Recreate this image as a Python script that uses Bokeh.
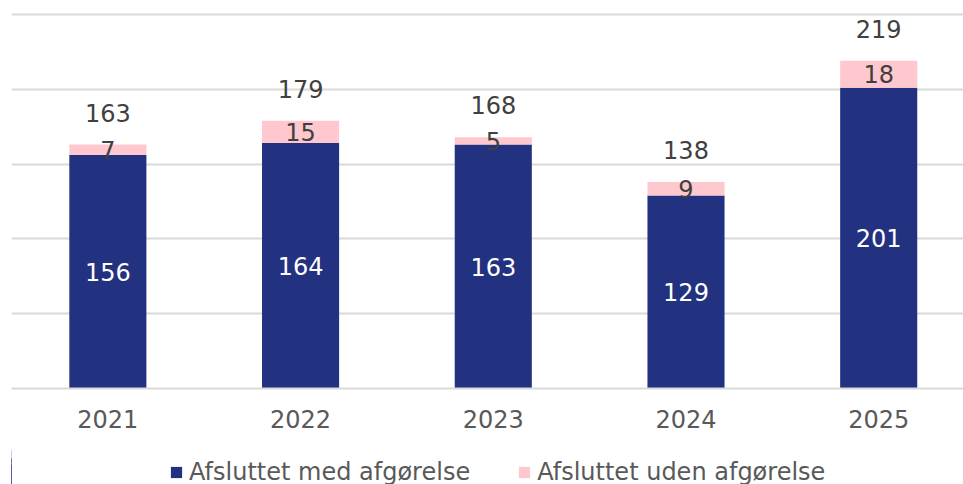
from bokeh.plotting import figure
from bokeh.layouts import column
from bokeh.models import ColumnDataSource, Range1d, FixedTicker, Legend, LegendItem
from bokeh.core.properties import value
from bokeh.embed import file_html
from bokeh.resources import INLINE

years = ["2021", "2022", "2023", "2024", "2025"]
med_afgorelse = [156, 164, 163, 129, 201]
uden_afgorelse = [7, 15, 5, 9, 18]
totals = [163, 179, 168, 138, 219]
series_names = ["Afsluttet med afgørelse", "Afsluttet uden afgørelse"]

NAVY = "#223180"
PINK = "#FFC7CE"
FONT = "DejaVu Sans"

xs = list(range(len(years)))
src = ColumnDataSource(dict(
    x=xs,
    med=med_afgorelse,
    uden=uden_afgorelse,
    total=totals,
    med_mid=[m / 2 for m in med_afgorelse],
    uden_mid=[m + u / 2 for m, u in zip(med_afgorelse, uden_afgorelse)],
    med_txt=[str(v) for v in med_afgorelse],
    uden_txt=[str(v) for v in uden_afgorelse],
    tot_txt=[str(v) for v in totals],
))

p = figure(width=963, height=440, output_backend="svg",
           toolbar_location=None, x_range=Range1d(-0.5, 4.44), y_range=Range1d(0, 251.3),
           min_border_left=11, min_border_right=0, min_border_top=12, min_border_bottom=52)
p.outline_line_color = None

r = p.vbar_stack(["med", "uden"], x="x", width=0.4, source=src,
                 color=[NAVY, PINK], line_color=None)

p.text(x="x", y="med_mid", text="med_txt", source=src, text_align="center",
       text_baseline="middle", text_color="white", text_font=value(FONT),
       text_font_size="24px")
p.text(x="x", y="uden_mid", text="uden_txt", source=src, text_align="center",
       text_baseline="middle", text_color="#404040", text_font=value(FONT),
       text_font_size="24px")
p.text(x="x", y="total", text="tot_txt", source=src, text_align="center",
       text_baseline="middle", y_offset=-32, text_color="#404040",
       text_font=value(FONT), text_font_size="24px")

p.yaxis.visible = False
p.xgrid.visible = False
p.ygrid.ticker = FixedTicker(ticks=[0, 50, 100, 150, 200, 250])
p.ygrid.grid_line_color = "#D9D9D9"
p.ygrid.grid_line_width = 2

xa = p.xaxis[0]
xa.ticker = FixedTicker(ticks=xs)
xa.major_label_overrides = {i: y for i, y in enumerate(years)}
xa.major_tick_line_color = None
xa.minor_tick_line_color = None
xa.axis_line_color = "#D9D9D9"
xa.axis_line_width = 2
xa.major_label_text_font = FONT
xa.major_label_text_font_size = "24px"
xa.major_label_text_color = "#595959"
xa.major_label_standoff = 15

# legend strip below the chart (its bars lie just outside the visible range)
p2 = figure(width=963, height=50, output_backend="svg", toolbar_location=None,
            x_range=Range1d(6, 1000), y_range=Range1d(0, 250),
            min_border_left=0, min_border_right=0, min_border_top=0, min_border_bottom=0)
p2.axis.visible = False
p2.grid.visible = False
p2.outline_line_color = None
p2.background_fill_color = "white"
p2.border_fill_color = "white"
lr = p2.vbar_stack(["med", "uden"], x="x", width=0.4, source=src,
                   color=[NAVY, PINK], line_color=None)

legend = Legend(items=[LegendItem(label=series_names[0], renderers=[lr[0]]),
                       LegendItem(label=series_names[1], renderers=[lr[1]])],
                location=(158, 4), orientation="horizontal",
                spacing=47, label_standoff=6, glyph_width=14, glyph_height=14,
                padding=0, margin=0, border_line_alpha=0, background_fill_alpha=0,
                label_text_font=FONT, label_text_font_size="24px",
                label_text_color="#595959")
p2.add_layout(legend, "center")

layout = column(p, p2, spacing=0)
open("out.html", "w").write(file_html(layout, INLINE))
